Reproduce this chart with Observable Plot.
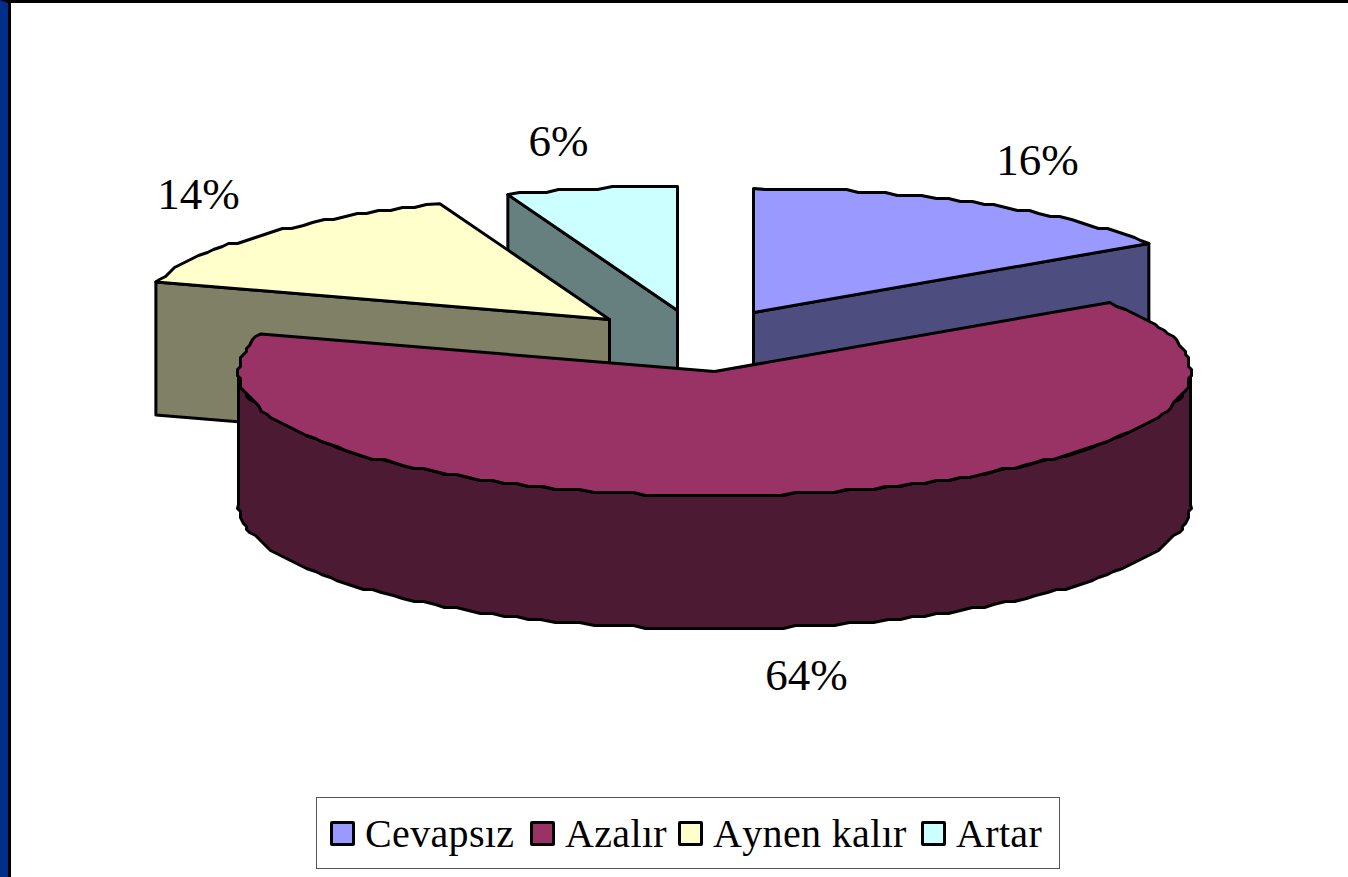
<!DOCTYPE html>
<html><head><meta charset="utf-8">
<script src="https://cdn.jsdelivr.net/npm/d3@7"></script>
<script src="https://cdn.jsdelivr.net/npm/@observablehq/plot@0.6"></script>
<style>
html,body{margin:0;padding:0;background:#fff;overflow:hidden}
#page{width:1348px;height:877px;box-sizing:border-box;border-top:3px solid #000;border-left:8px solid #002f8b;position:relative}
#inner{position:absolute;left:0;top:0;width:1340px;height:874px;box-sizing:border-box;border-left:3px solid #000}
#inner svg{display:block}
#legend{box-sizing:border-box;position:absolute;left:305px;top:794px;width:744px;height:72px;border:1.5px solid #555;display:flex;align-items:center;padding-left:13px;font:40px "Liberation Serif",serif;font-kerning:none;letter-spacing:.35px;color:#000;background:#fff;white-space:nowrap}
.sw{width:25px;height:25px;box-sizing:border-box;border:3.5px solid #000;border-radius:2px;margin-right:10px;flex:none}
.it{display:flex;align-items:center}
.it:nth-child(1){width:200px}
.it:nth-child(2){width:148px}
.it:nth-child(3){width:243px}
</style></head><body>
<div id="page"><div id="inner"></div></div>
<script>
const categories = ["Cevapsız", "Azalır", "Aynen kalır", "Artar"];
const shares = [15.6, 64.3, 14.3, 5.8];
const topColors = ["#9999ff", "#993366", "#ffffcc", "#ccffff"];
const sideColors = ["#4d4d80", "#4d1a33", "#808066", "#668080"];

// Pie layout, in the scale's picture units
const rx = 476, ry = 124, depth = 133;
const apexes = [[753, 312], [714, 371], [609, 319], [677, 310]];
const labelOffsets = [[284, -152], [92, 304], [-411, -125], [-119, -169]];

const pie = d3.pie().sort(null).value(d => d)(shares);
const project = (c, a) => ({x: c[0] + rx * Math.sin(a), y: c[1] - ry * Math.cos(a)});
const snap = p => ({x: Math.round(p.x / 3) * 3, y: Math.round(p.y / 3) * 3});
function arc(c, a0, a1) {
  const n = Math.max(2, Math.ceil(Math.abs(a1 - a0) / (Math.PI / 110)));
  return d3.range(n + 1).map(i => {
    const p = project(c, a0 + (a1 - a0) * i / n);
    return i === 0 || i === n ? p : snap(p);
  });
}
const down = p => ({x: p.x, y: p.y + depth});
const pt = c => ({x: c[0], y: c[1]});
const topFace = i => [pt(apexes[i]), ...arc(apexes[i], pie[i].startAngle, pie[i].endAngle)];
// flat radial side of an exploded slice, seen from the front
const side = (i, a) => { const e = project(apexes[i], a), c = pt(apexes[i]); return [c, e, down(e), down(c)]; };
// curved outer wall of the large slice
const wall = i => { const t = arc(apexes[i], Math.PI / 2, 3 * Math.PI / 2); return [...t, ...t.slice().reverse().map(down)]; };

const face = (pts, fill) => Plot.line(pts, {x: "x", y: "y", fill, stroke: "#000", strokeWidth: 3, strokeLinejoin: "round", curve: "linear-closed"});
const labels = shares.map((s, i) => ({
  text: Math.round(s) + "%",
  x: apexes[i][0] + labelOffsets[i][0],
  y: apexes[i][1] + labelOffsets[i][1]
}));

const chart = Plot.plot({
  width: 1337, height: 794, margin: 0,
  x: {domain: [11, 1348], range: [0, 1337], axis: null},
  y: {domain: [3, 797], range: [0, 794], axis: null},
  marks: [
    face(side(0, pie[0].endAngle), sideColors[0]),
    face(side(3, pie[3].startAngle), sideColors[3]),
    face(topFace(3), topColors[3]),
    face(topFace(0), topColors[0]),
    face(side(2, pie[2].startAngle), sideColors[2]),
    face(topFace(2), topColors[2]),
    face(wall(1), sideColors[1]),
    face(topFace(1), topColors[1]),
    Plot.text(labels, {x: "x", y: "y", text: "text", fontFamily: "Liberation Serif", fontSize: 45, fill: "#000"})
  ]
});
const inner = document.getElementById("inner");
inner.appendChild(chart);
const legend = document.createElement("div");
legend.id = "legend";
categories.forEach((c, i) => {
  const it = document.createElement("div"); it.className = "it";
  const sw = document.createElement("span"); sw.className = "sw"; sw.style.background = topColors[i];
  const t = document.createElement("span"); t.textContent = c;
  it.append(sw, t); legend.appendChild(it);
});
inner.appendChild(legend);
</script>
</body></html>
